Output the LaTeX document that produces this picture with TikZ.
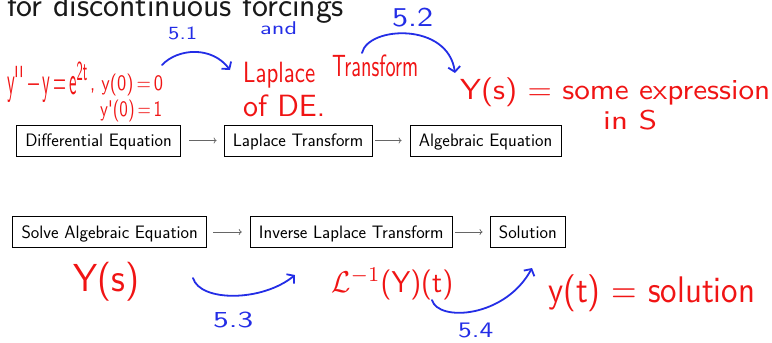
\documentclass[tikz,border=0pt]{standalone}
\usepackage{fontspec}
\usepackage{graphicx}
\usetikzlibrary{arrows.meta}
\definecolor{hred}{RGB}{240,20,20}
\definecolor{hblue}{RGB}{35,45,230}
\definecolor{titlegray}{RGB}{25,25,25}
\newcommand\handw[3]{\resizebox*{#1pt}{#2pt}{#3}}
\begin{document}
\begin{tikzpicture}[x=1pt,y=-1pt,
  box/.style={draw=black, line width=0.8pt, font=\sffamily\fontsize{18}{21}\selectfont,
    minimum height=31pt, inner xsep=0pt, inner ysep=0pt, text height=12.5pt, text depth=0pt},
  flow/.style={draw=black!60, line width=0.7pt, -{To[length=3pt,width=6pt]}},
  hand/.style={font=\sffamily, inner sep=0pt, anchor=west},
  hr/.style={hand, text=hred},
  hb/.style={hand, text=hblue},
  stroke/.style={draw=hblue, line width=1.8pt, line cap=round, line join=round,
    -{Straight Barb[length=5pt,width=12pt]}}
]
\useasboundingbox (0,0) rectangle (772,343);
\begin{scope}
\clip (0,0) rectangle (772,343);
\node[anchor=base west, inner sep=0pt, text=titlegray,
  font=\sffamily\fontsize{33.8}{38}\selectfont] (title) at (7,16) {for discontinuous forcings};
\end{scope}

% boxes
\node[box, minimum width=163.6pt] (b1) at (98.5,140.5) {Differential Equation};
\node[box, minimum width=148pt]   (b2) at (298,140.5)  {Laplace Transform};
\node[box, minimum width=151pt]   (b3) at (485.5,140.5) {Algebraic Equation};
\node[box, minimum width=194pt]   (b4) at (109.7,232) {Solve Algebraic Equation};
\node[box, minimum width=202pt]   (b5) at (351.2,232) {Inverse Laplace Transform};
\node[box, minimum width=75.7pt]  (b6) at (527.8,232) {Solution};

\draw[flow, shorten <=8.7pt, shorten >=7pt] (b1) -- (b2);
\draw[flow, shorten <=3pt, shorten >=8pt] (b2) -- (b3);
\draw[flow, shorten <=6.3pt, shorten >=8pt] (b4) -- (b5);
\draw[flow, shorten <=2.7pt, shorten >=7pt] (b5) -- (b6);

% red handwriting
\node[hr] (ode) at (7,82.5) {\handw{81}{41}{y\textquotesingle\textquotesingle\,−\,y\,=\,e\textsuperscript{2t}}};
\node[hr] (ic1) at (90,85) {\handw{73}{22}{, y(0)\,=\,0}};
\node[hr] (ic2) at (100,111) {\handw{62}{22}{y\textquotesingle(0)\,=\,1}};
\node[hr] (lap) at (243,75) {\handw{72}{26}{Laplace}};
\node[hr] (tra) at (332,66) {\handw{86}{22}{Transform}};
\node[hr] (ofde) at (243,106) {\handw{82}{22}{of DE.}};
\node[hr] (ys) at (460,92) {\handw{310}{29}{Y(s) = some expression}};
\node[hr] (ins) at (603,120) {\handw{54}{20}{in S}};
\node[hr] (ys2) at (73,282) {\handw{66}{39}{Y(s)}};
\node[hr] (linv) at (331,284) {\handw{122}{32}{$\mathcal{L}^{-1}$(Y)(t)}};
\node[hr] (sol) at (548,293) {\handw{207}{37}{y(t) = solution}};

% blue handwriting
\node[hb] (l51) at (168,33.5) {\handw{29}{13}{5.1}};
\node[hb] (and) at (260,28.5) {\handw{37}{13}{and}};
\node[hb] (l52) at (392,17.5) {\handw{41}{19}{5.2}};
\node[hb] (l53) at (213,320) {\handw{40}{16}{5.3}};
\node[hb] (l54) at (458,330) {\handw{35}{15}{5.4}};

% blue strokes
\coordinate (a1s) at (162,65); \coordinate (a1e) at (230,70);
\coordinate (a2s) at (362,53); \coordinate (a2e) at (455,73);
\coordinate (a3s) at (193,278); \coordinate (a3e) at (295,275);
\coordinate (a4s) at (432,300); \coordinate (a4e) at (532,268);
\draw[stroke] (a1s) .. controls (178,48) and (212,46) .. (a1e);
\draw[stroke] (a2s) .. controls (368,26) and (448,22) .. (a2e);
\draw[stroke] (a3s) .. controls (200,302) and (262,302) .. (a3e);
\draw[stroke] (a4s) .. controls (438,322) and (505,318) .. (a4e);
\end{tikzpicture}
\end{document}
